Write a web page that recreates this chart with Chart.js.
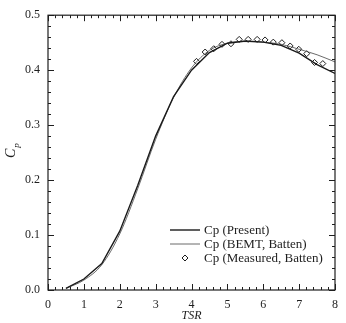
<!DOCTYPE html>
<html>
<head>
<meta charset="utf-8">
<script src="https://cdn.jsdelivr.net/npm/chart.js@4"></script>
<style>
  html, body { margin: 0; padding: 0; background: #fff; }
  #wrap { width: 346px; height: 323px; }
</style>
</head>
<body>
<div id="wrap"><canvas id="cpChart" width="346" height="323"></canvas></div>
<script>
// values
const tsrPresent = [0.5, 1.0, 1.5, 2.0, 2.5, 3.0, 3.5, 4.0, 4.5, 5.0, 5.5, 6.0, 6.5, 7.0, 7.5, 8.0];
const cpPresent  = [0.003, 0.020, 0.048, 0.107, 0.190, 0.280, 0.352, 0.400, 0.432, 0.449, 0.453, 0.451, 0.445, 0.431, 0.410, 0.394];

const tsrBemt = [0.5, 1.0, 1.5, 2.0, 2.5, 3.0, 3.5, 4.0, 4.5, 5.0, 5.5, 6.0, 6.5, 7.0, 7.5, 8.0];
const cpBemt  = [0.003, 0.018, 0.046, 0.102, 0.184, 0.274, 0.350, 0.404, 0.436, 0.449, 0.452, 0.451, 0.447, 0.438, 0.428, 0.415];

const tsrMeasured = [4.14, 4.38, 4.62, 4.85, 5.10, 5.33, 5.58, 5.83, 6.05, 6.28, 6.52, 6.75, 6.99, 7.21, 7.43, 7.66];
const cpMeasured  = [0.416, 0.433, 0.439, 0.447, 0.448, 0.456, 0.456, 0.456, 0.455, 0.451, 0.450, 0.444, 0.438, 0.430, 0.414, 0.412];

const xTicks = [0, 1, 2, 3, 4, 5, 6, 7, 8];
const yTicks = [0.0, 0.1, 0.2, 0.3, 0.4, 0.5];

const seriesLabels = ['Cp (Present)', 'Cp (BEMT, Batten)', 'Cp (Measured, Batten)'];

const FONT = '"Liberation Serif", "Times New Roman", serif';
const INK = '#1e1e1e';

function toPoints(xs, ys) {
  return xs.map((x, i) => ({ x: x, y: ys[i] }));
}

// frame, inward major/minor ticks on all four sides
const framePlugin = {
  id: 'frame',
  afterDatasetsDraw(chart) {
    const { ctx, chartArea: a, scales } = chart;
    const xs = scales.x, ys = scales.y;
    ctx.save();
    ctx.strokeStyle = INK;
    ctx.lineWidth = 1.2;
    ctx.strokeRect(a.left, a.top, a.right - a.left, a.bottom - a.top);
    ctx.lineWidth = 1;
    ctx.beginPath();
    for (let i = 0; i <= 40; i++) {
      const v = i * 0.2;
      const px = Math.round(xs.getPixelForValue(v)) + 0.5;
      const len = (i % 5 === 0) ? 6 : 3;
      ctx.moveTo(px, a.bottom); ctx.lineTo(px, a.bottom - len);
      ctx.moveTo(px, a.top); ctx.lineTo(px, a.top + len);
    }
    for (let i = 0; i <= 25; i++) {
      const v = i * 0.02;
      const py = Math.round(ys.getPixelForValue(v)) + 0.5;
      const len = (i % 5 === 0) ? 6 : 3;
      ctx.moveTo(a.left, py); ctx.lineTo(a.left + len, py);
      ctx.moveTo(a.right, py); ctx.lineTo(a.right - len, py);
    }
    ctx.stroke();
    ctx.restore();
  }
};

// y title C with subscript p, rotated
const yTitlePlugin = {
  id: 'yTitle',
  afterDraw(chart) {
    const { ctx } = chart;
    ctx.save();
    ctx.translate(15, 153);
    ctx.rotate(-Math.PI / 2);
    ctx.fillStyle = INK;
    ctx.textBaseline = 'alphabetic';
    ctx.textAlign = 'left';
    ctx.font = 'italic 14px ' + FONT;
    ctx.fillText('C', -5, 0);
    const w = ctx.measureText('C').width;
    ctx.font = 'italic 9px ' + FONT;
    ctx.fillText('p', -5 + w + 1, 4);
    ctx.restore();
  }
};

// legend inside the plot, lower right
const legendPlugin = {
  id: 'insideLegend',
  afterDraw(chart) {
    const { ctx } = chart;
    const rows = [230, 244, 258];
    const x0 = 170, x1 = 200, tx = 204;
    ctx.save();
    ctx.font = '13px ' + FONT;
    ctx.fillStyle = INK;
    ctx.textBaseline = 'middle';
    chart.data.datasets.forEach((ds, i) => {
      const y = rows[i];
      if (ds.showLine === false) {
        ctx.beginPath();
        const cx = (x0 + x1) / 2, r = 3;
        ctx.moveTo(cx, y - r); ctx.lineTo(cx + r, y); ctx.lineTo(cx, y + r); ctx.lineTo(cx - r, y); ctx.closePath();
        ctx.fillStyle = '#fff';
        ctx.fill();
        ctx.strokeStyle = INK;
        ctx.lineWidth = 1;
        ctx.stroke();
      } else {
        ctx.beginPath();
        ctx.strokeStyle = ds.borderColor;
        ctx.lineWidth = ds.borderWidth;
        ctx.moveTo(x0, y); ctx.lineTo(x1, y);
        ctx.stroke();
      }
      ctx.fillStyle = INK;
      ctx.fillText(ds.label, tx, y + 0.5);
    });
    ctx.restore();
  }
};

const ctx = document.getElementById('cpChart').getContext('2d');
const chart = new Chart(ctx, {
  type: 'scatter',
  data: {
    datasets: [
      {
        label: seriesLabels[0],
        data: toPoints(tsrPresent, cpPresent),
        showLine: true,
        borderColor: '#1a1a1a',
        borderWidth: 1.4,
        pointRadius: 0,
        tension: 0
      },
      {
        label: seriesLabels[1],
        data: toPoints(tsrBemt, cpBemt),
        showLine: true,
        borderColor: '#5a5a5a',
        borderWidth: 0.9,
        pointRadius: 0,
        cubicInterpolationMode: 'monotone'
      },
      {
        label: seriesLabels[2],
        data: toPoints(tsrMeasured, cpMeasured),
        showLine: false,
        pointStyle: 'rectRot',
        pointRadius: 3,
        pointBackgroundColor: '#fff',
        pointBorderColor: INK,
        pointBorderWidth: 1
      }
    ]
  },
  options: {
    responsive: false,
    animation: false,
    layout: { padding: { left: 0, right: 6, top: 15, bottom: 0 } },
    plugins: {
      legend: { display: false },
      tooltip: { enabled: false }
    },
    scales: {
      x: {
        type: 'linear',
        min: 0, max: 8,
        afterBuildTicks: (s) => { s.ticks = xTicks.map(v => ({ value: v })); },
        afterFit: (s) => { s.height = 33; },
        grid: { display: false, drawTicks: false },
        border: { display: false },
        ticks: {
          padding: 8,
          color: INK,
          font: { family: FONT, size: 12 },
          callback: (v) => String(v),
          maxRotation: 0
        },
        title: {
          display: true,
          text: 'TSR',
          color: INK,
          font: { family: FONT, size: 12, style: 'italic' },
          padding: { top: 0, bottom: 0 }
        }
      },
      y: {
        type: 'linear',
        min: 0, max: 0.5,
        afterBuildTicks: (s) => { s.ticks = yTicks.map(v => ({ value: v })); },
        afterFit: (s) => { s.width = 48; },
        grid: { display: false, drawTicks: false },
        border: { display: false },
        ticks: {
          padding: 8,
          color: INK,
          font: { family: FONT, size: 12 },
          callback: (v) => Number(v).toFixed(1)
        }
      }
    }
  },
  plugins: [framePlugin, yTitlePlugin, legendPlugin]
});
</script>
</body>
</html>
